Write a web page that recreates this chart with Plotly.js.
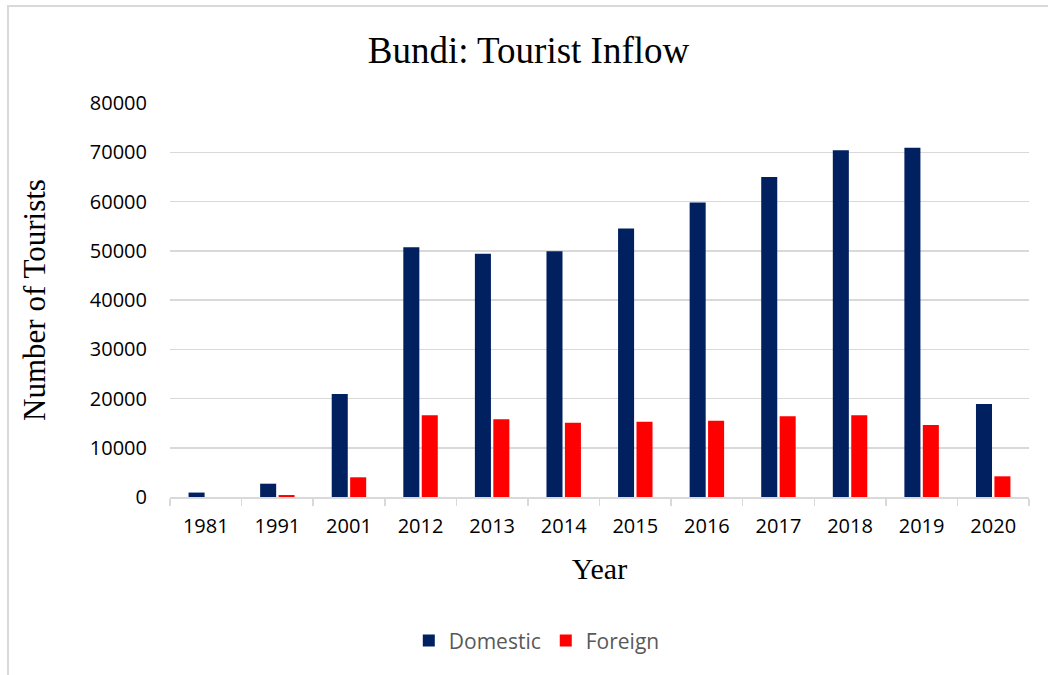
<!DOCTYPE html>
<html>
<head>
<meta charset="utf-8">
<script src="https://cdn.plot.ly/plotly-3.0.1.min.js"></script>
<style>
  html, body { margin: 0; padding: 0; background: #fff; overflow: hidden; }
  #frame { position: absolute; left: 7px; top: 5px; width: 1041px; height: 670px;
           border-left: 2px solid #d9d9d9; border-top: 2px solid #d9d9d9; }
  #chart { width: 1039px; height: 668px; }
</style>
</head>
<body>
<div id="frame"><div id="chart"></div></div>
<script>
const years = ["1981", "1991", "2001", "2012", "2013", "2014", "2015", "2016", "2017", "2018", "2019", "2020"];
const domestic = [900, 2700, 20900, 50700, 49400, 49900, 54500, 59800, 65000, 70400, 70900, 18900];
const foreign = [0, 400, 4000, 16600, 15800, 15100, 15300, 15500, 16400, 16600, 14600, 4200];
const yTicks = [0, 10000, 20000, 30000, 40000, 50000, 60000, 70000, 80000];

const sans = "'Open Sans', 'Liberation Sans', sans-serif";
const serif = "'Liberation Serif', 'DejaVu Serif', serif";

const traces = [
  { type: "bar", name: "Domestic", x: years, y: domestic, marker: { color: "#002060" } },
  { type: "bar", name: "Foreign", x: years, y: foreign, marker: { color: "#FF0000" } }
];

const layout = {
  width: 1039, height: 668,
  margin: { l: 161, r: 19, t: 96, b: 178 },
  paper_bgcolor: "#fff", plot_bgcolor: "#fff",
  barmode: "group", bargap: 0.485, bargroupgap: 0.13,
  title: { text: "Bundi: Tourist Inflow", font: { family: serif, size: 37, color: "#000" },
           x: 0.5, xanchor: "center", xref: "container", y: 0.935, yanchor: "middle" },
  xaxis: {
    type: "category", categoryorder: "array", categoryarray: years,
    showline: true, linecolor: "#d9d9d9", linewidth: 1.5,
    ticks: "outside", tickson: "boundaries", ticklen: 7, tickcolor: "#d9d9d9", tickwidth: 1.5,
    ticklabelstandoff: 10,
    tickfont: { family: sans, size: 20, color: "#000" },
    showgrid: false,
    title: { text: "Year", font: { family: serif, size: 30, color: "#000" }, standoff: 20 }
  },
  yaxis: {
    range: [0, 80000], tickvals: yTicks, ticktext: yTicks.map(String),
    showgrid: true, gridcolor: "#d9d9d9", gridwidth: 1.5,
    zeroline: false, showline: false, ticks: "",
    ticklabelstandoff: 22,
    tickfont: { family: sans, size: 20, color: "#000" },
    title: { text: "Number of Tourists", font: { family: serif, size: 31, color: "#000" }, standoff: 34 }
  },
  legend: {
    orientation: "h", x: 0.427, xanchor: "center", y: -0.365, yanchor: "middle",
    font: { family: sans, size: 21, color: "#595959" },
    itemwidth: 30, traceorder: "normal"
  },
  showlegend: true
};

Plotly.newPlot("chart", traces, layout, { displayModeBar: false, staticPlot: true });
</script>
</body>
</html>
